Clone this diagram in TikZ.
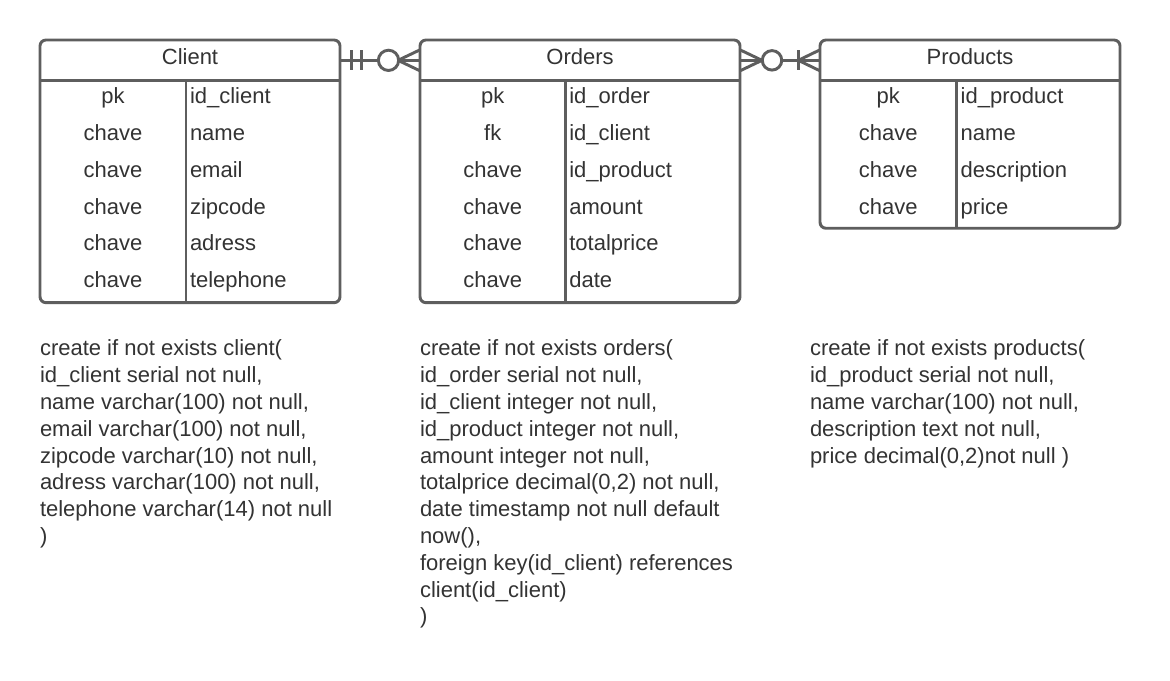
\documentclass[tikz,border=0pt]{standalone}
\usepackage{fontspec}
\setmainfont{Liberation Sans}
\usetikzlibrary{calc}
\definecolor{edge}{HTML}{5E5E5E}
\definecolor{ink}{HTML}{333333}
\begin{document}
\begin{tikzpicture}[x=0.75pt,y=-0.75pt,
  every node/.style={font=\fontsize{16.5}{20.1}\selectfont, text=ink, inner sep=0pt, outer sep=0pt},
  tbl/.style={draw=edge, line width=2.2pt, rounded corners=4.5pt, anchor=north west},
  head/.style={anchor=north west, minimum height=30.5pt},
  rule/.style={draw=edge, line width=2.2pt},
  conn/.style={draw=edge, line width=2.2pt},
  sql/.style={anchor=north west, align=left}
]
\useasboundingbox[fill=white] (0,0) rectangle (1170,681);

% ---------- Client ----------
\node[tbl, minimum width=225pt, minimum height=197pt] (client) at (40,40) {};
\node[head, minimum width=225pt] (clienthead) at (40,40) {};
\node[anchor=base] (clienttitle) at (190,65) {Client};
\draw[rule] (clienthead.south west) -- (clienthead.south east);
\draw[rule] (186,80.7) -- (186,302.7);
\foreach \k/\f [count=\i] in {pk/id\_client, chave/name, chave/email, chave/zipcode, chave/adress, chave/telephone}{
  \node[anchor=base] (ck\i) at (113,{103.5+36.85*(\i-1)}) {\k};
  \node[anchor=base west] (cf\i) at (190,{103.5+36.85*(\i-1)}) {\f};
}

% ---------- Orders ----------
\node[tbl, minimum width=240pt, minimum height=197pt] (orders) at (420,40) {};
\node[head, minimum width=240pt] (ordershead) at (420,40) {};
\node[anchor=base] (orderstitle) at (580,65) {Orders};
\draw[rule] (ordershead.south west) -- (ordershead.south east);
\draw[rule] (565.3,80.7) -- (565.3,302.7);
\foreach \k/\f [count=\i] in {pk/id\_order, fk/id\_client, chave/id\_product, chave/amount, chave/totalprice, chave/date}{
  \node[anchor=base] (ok\i) at (492.7,{103.5+36.85*(\i-1)}) {\k};
  \node[anchor=base west] (of\i) at (569.3,{103.5+36.85*(\i-1)}) {\f};
}

% ---------- Products ----------
\node[tbl, minimum width=225pt, minimum height=141.2pt] (products) at (820,40) {};
\node[head, minimum width=225pt] (productshead) at (820,40) {};
\node[anchor=base] (productstitle) at (970,65) {Products};
\draw[rule] (productshead.south west) -- (productshead.south east);
\draw[rule] (956.7,80.7) -- (956.7,228.3);
\foreach \k/\f [count=\i] in {pk/id\_product, chave/name, chave/description, chave/price}{
  \node[anchor=base] (pk\i) at (888.3,{103.5+36.85*(\i-1)}) {\k};
  \node[anchor=base west] (pf\i) at (960.7,{103.5+36.85*(\i-1)}) {\f};
}

% ---------- Client -- Orders (one and only one / zero or many) ----------
\draw[conn] (clienthead.east) -- (ordershead.west);
\draw[conn] ($(clienthead.east)+(11.7,-10)$) -- ++(0,20);
\draw[conn] ($(clienthead.east)+(21.7,-10)$) -- ++(0,20);
\draw[conn] ($(ordershead.west)+(-22,0)$) -- ($(ordershead.west)+(0,-10.5)$);
\draw[conn] ($(ordershead.west)+(-22,0)$) -- ($(ordershead.west)+(0,10.5)$);
\draw[conn, fill=white] ($(clienthead.east)+(48.5,0)$) circle[radius=7.6pt];

% ---------- Orders -- Products (zero or many / one or many) ----------
\draw[conn] (ordershead.east) -- (productshead.west);
\draw[conn] ($(ordershead.east)+(22,0)$) -- ($(ordershead.east)+(0,-10.5)$);
\draw[conn] ($(ordershead.east)+(22,0)$) -- ($(ordershead.east)+(0,10.5)$);
\draw[conn, fill=white] ($(ordershead.east)+(32,0)$) circle[radius=7.3pt];
\draw[conn] ($(productshead.west)+(-21.7,-10)$) -- ++(0,20);
\draw[conn] ($(productshead.west)+(-21.7,0)$) -- ($(productshead.west)+(0,-10.5)$);
\draw[conn] ($(productshead.west)+(-21.7,0)$) -- ($(productshead.west)+(0,10.5)$);

% ---------- SQL ----------
\node[sql] (clientsql) at (40,340) {create if not exists client(\\
id\_client serial not null,\\
name varchar(100) not null,\\
email varchar(100) not null,\\
zipcode varchar(10) not null,\\
adress varchar(100) not null,\\
telephone varchar(14) not null\\
)};
\node[sql] (orderssql) at (420,340) {create if not exists orders(\\
id\_order serial not null,\\
id\_client integer not null,\\
id\_product integer not null,\\
amount integer not null,\\
totalprice decimal(0,2) not null,\\
date timestamp not null default\\
now(),\\
foreign key(id\_client) references\\
client(id\_client)\\
)};
\node[sql] (productssql) at (810,340) {create if not exists products(\\
id\_product serial not null,\\
name varchar(100) not null,\\
description text not null,\\
price decimal(0,2)not null )};
\end{tikzpicture}
\end{document}
